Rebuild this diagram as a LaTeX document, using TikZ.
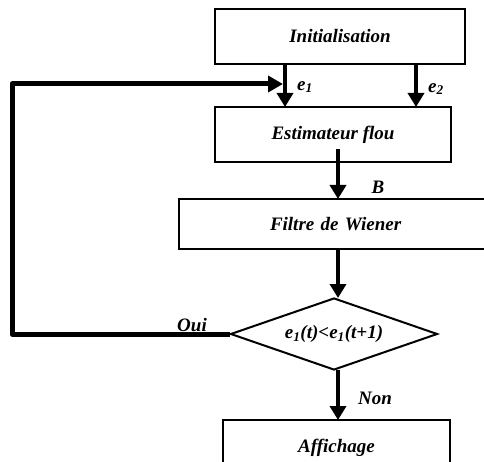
\documentclass[tikz,border=0pt]{standalone}
\usepackage{fontspec}
\setmainfont{Liberation Serif}
\usetikzlibrary{arrows.meta,shapes.geometric}
\begin{document}
\begin{tikzpicture}[x=1pt,y=-1pt,
  box/.style={draw,line width=2pt,rectangle,inner sep=0pt,font=\fontsize{19}{22}\selectfont\bfseries\itshape},
  flow/.style={line width=4pt,-{Triangle[length=14pt,width=16pt]}},
  back/.style={line width=5pt,line join=round,-{Triangle[length=15pt,width=16pt]}},
  lab/.style={font=\fontsize{19}{22}\selectfont\bfseries\itshape,inner sep=0pt}]
\useasboundingbox (0,0) rectangle (484,462);
\node[box,minimum width=250pt,minimum height=55pt] (init) at (340,36.5) {Initialisation};
\node[box,minimum width=236pt,minimum height=55pt] (est) at (333,134.5) {Estimateur flou};
\node[box,minimum width=315pt,minimum height=50pt,text width=315pt,align=left] (fil) at (336.5,224) {\hspace*{91pt}Filtre de Wiener};
\node[draw,line width=2pt,diamond,aspect=2.875,minimum width=207pt,minimum height=72pt,inner sep=0pt,font=\fontsize{19}{22}\selectfont\bfseries\itshape] (dec) at (334,334) {e\textsubscript{1}(t)<e\textsubscript{1}(t+1)};
\node[box,minimum width=227pt,minimum height=55pt] (aff) at (336.5,447.5) {Affichage};
\coordinate (a1) at (285,64);
\coordinate (b1) at (285,107);
\coordinate (a2) at (416,64);
\coordinate (b2) at (416,107);
\coordinate (s3) at (338,149);
\coordinate (t3) at (338,199);
\coordinate (s4) at (338,249);
\coordinate (t4) at (338,298);
\coordinate (s5) at (338,370);
\coordinate (t5) at (338,420);
\coordinate (c1) at (12,334);
\coordinate (c2) at (12,84);
\coordinate (e1in) at (283,84);
\draw[flow] (a1) -- (b1);
\draw[flow] (a2) -- (b2);
\draw[flow] (s3) -- (t3);
\draw[flow] (s4) -- (t4);
\draw[flow] (s5) -- (t5);
\draw[back] (dec.west) -- (c1) -- (c2) -- (e1in);
\node[lab,anchor=west] (le1) at (297,87) {e\textsubscript{1}};
\node[lab,anchor=west] (le2) at (428,89) {e\textsubscript{2}};
\node[lab] (lb) at (378,187) {B};
\node[lab] (lnon) at (375,398) {Non};
\node[lab] (loui) at (192,325) {Oui};
\end{tikzpicture}
\end{document}
